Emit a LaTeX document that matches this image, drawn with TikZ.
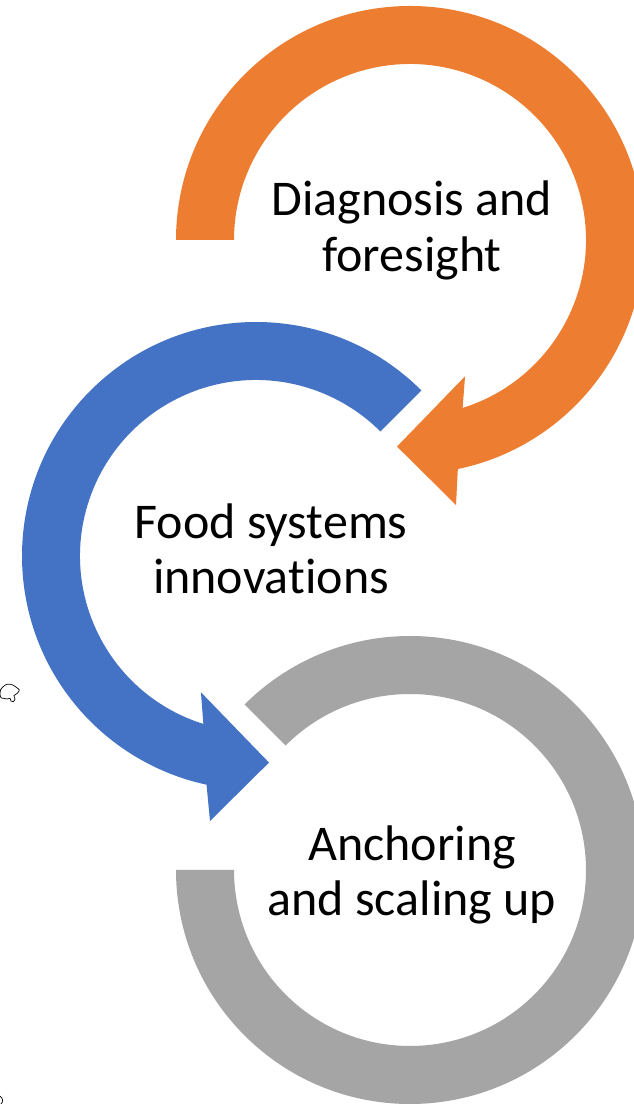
\documentclass[tikz,border=0pt]{standalone}
\usepackage{fontspec}
\setmainfont{Carlito}[Ligatures=NoCommon]
\usetikzlibrary{calc}
\definecolor{ringorange}{HTML}{ED7D31}
\definecolor{ringblue}{HTML}{4472C4}
\definecolor{ringgray}{HTML}{A5A5A5}
\begin{document}
\begin{tikzpicture}[x=1pt,y=1pt,
  lbl/.style={anchor=base,inner sep=0pt,font=\fontsize{50}{56}\selectfont,text=black},
  blob/.style={draw=black,line width=0.7pt,fill=white}]
\useasboundingbox (0,0) rectangle (633,1104);
\fill[white] (0,0) rectangle (633,1104);
% centres
\coordinate (O1) at (410,864);
\coordinate (O2) at (256,548);
\coordinate (O3) at (410,234);
% orange arrow (clockwise)
\fill[ringorange] ($(O1)+(180:234)$) arc[start angle=180,end angle=-78.2,radius=234]
  -- ($(O1)+(-80.15:269)$) -- ($(O1)+(-93.6:207)$) -- ($(O1)+(-68:147)$)
  -- ($(O1)+(-72.6:176)$) arc[start angle=-72.6,end angle=180,radius=176] -- cycle;
% blue arrow (counter-clockwise)
\fill[ringblue] ($(O2)+(45:234)$) arc[start angle=45,end angle=257.8,radius=234]
  -- ($(O2)+(260.15:269)$) -- ($(O2)+(273.6:207)$) -- ($(O2)+(248:147)$)
  -- ($(O2)+(252.6:176)$) arc[start angle=252.6,end angle=45,radius=176] -- cycle;
% gray ring
\fill[ringgray] ($(O3)+(180:234)$) arc[start angle=180,end angle=495,radius=234]
  -- ($(O3)+(495:176)$) arc[start angle=495,end angle=180,radius=176] -- cycle;
% labels
\node[lbl] (d1) at (412,888) {Diagnosis and};
\node[lbl] (d2) at (412,832) {foresight};
\node[lbl] (f1) at (271,565) {Food systems};
\node[lbl] (f2) at (271,510) {innovations};
\node[lbl] (a1) at (412,243) {Anchoring};
\node[lbl] (a2) at (412,188) {and scaling up};
% small stray marks
\draw[blob] plot[smooth cycle,tension=0.6] coordinates {(0.5,414) (6.7,419.7) (12.7,419) (16.7,416.3) (19.3,414) (17.3,410.7) (14,408.3) (15,405) (13.3,402.3) (11,403) (10,405.7) (7.3,405) (3.3,405.7) (0.5,407)};
\draw[line width=0.7pt] (0,8) .. controls (3,6) and (3.5,2) .. (1,0);
\end{tikzpicture}
\end{document}
